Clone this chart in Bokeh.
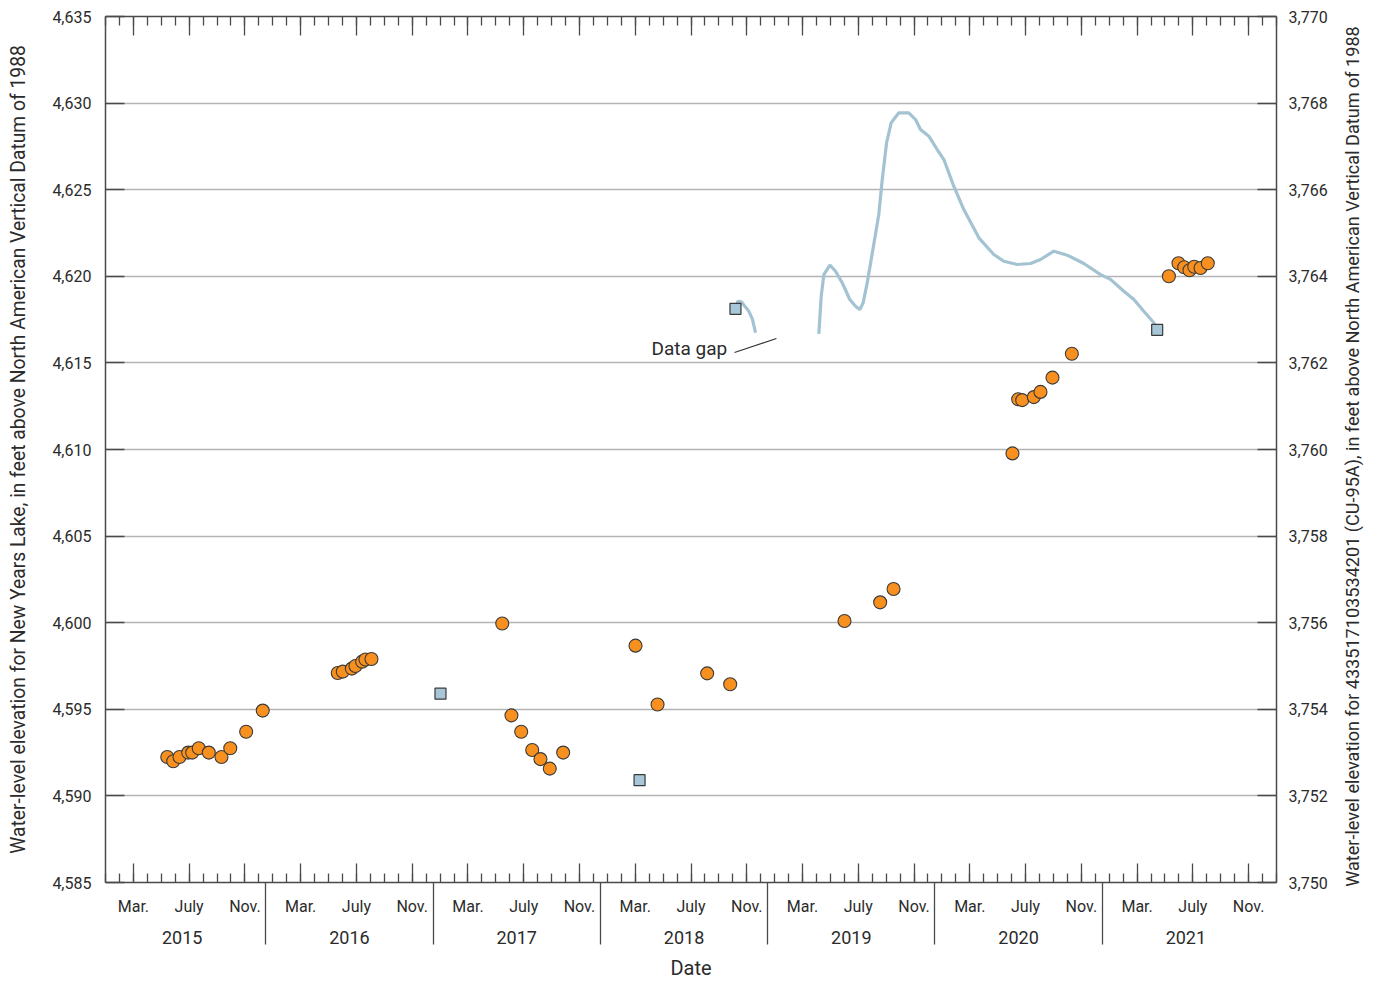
import math
from bokeh.plotting import figure
from bokeh.layouts import row
from bokeh.core.properties import value
from bokeh.models import (Range1d, LinearAxis, FixedTicker, NumeralTickFormatter,
                          Label, Grid)
from bokeh.embed import file_html
from bokeh.resources import INLINE

# ---------------- data ----------------
# time axis: months since 1 Jan 2015 (continuous)
years = ["2015", "2016", "2017", "2018", "2019", "2020", "2021"]
month_labels = ["Mar.", "July", "Nov."]
month_label_idx = [2, 6, 10]

# Well 433517103534201 (CU-95A), right axis
well_t = [4.93, 5.36, 5.81, 6.43, 6.72, 7.19, 7.91, 8.82, 9.45, 10.59, 11.78,
          17.16, 17.52, 18.17, 18.43, 18.91, 19.15, 19.58,
          28.96, 29.62, 30.32, 31.11, 31.70, 32.37, 33.33,
          38.52, 40.10, 43.66, 45.31,
          53.51, 56.07, 57.03,
          65.56, 65.97, 66.26, 67.09, 67.57, 68.43, 69.82,
          76.78, 77.47, 77.88, 78.26, 78.60, 79.05, 79.57]
well_elev = [3752.90, 3752.80, 3752.90, 3753.00, 3753.00, 3753.10, 3753.00, 3752.90, 3753.10, 3753.48, 3753.97,
             3754.84, 3754.87, 3754.94, 3755.00, 3755.10, 3755.15, 3755.16,
             3755.98, 3753.86, 3753.48, 3753.06, 3752.85, 3752.63, 3753.00,
             3755.47, 3754.11, 3754.83, 3754.58,
             3756.04, 3756.47, 3756.78,
             3759.91, 3761.16, 3761.14, 3761.21, 3761.33, 3761.66, 3762.21,
             3764.00, 3764.30, 3764.21, 3764.14, 3764.22, 3764.19, 3764.30]

# New Years Lake, left axis: continuous record (two pieces around a data gap)
lake_seg1_t = [45.69, 45.86, 46.12, 46.65, 46.91, 47.13]
lake_seg1_elev = [4618.12, 4618.56, 4618.52, 4617.98, 4617.51, 4616.74]
lake_seg2_t = [51.67, 51.84, 52.03, 52.46, 52.87, 53.35, 53.89, 54.30, 54.61, 54.85,
               55.14, 55.57, 55.97, 56.22, 56.53, 56.86, 57.41, 58.12, 58.61, 58.96,
               59.56, 60.16, 60.64, 61.35, 62.07, 63.15, 64.22, 64.94, 65.90, 66.86,
               67.57, 68.53, 69.49, 70.68, 71.88, 72.59, 73.55, 74.27, 74.98, 75.70, 75.94]
lake_seg2_elev = [4616.68, 4618.84, 4620.10, 4620.64, 4620.29, 4619.62, 4618.66, 4618.27, 4618.08, 4618.47,
                  4619.62, 4621.65, 4623.57, 4625.59, 4627.71, 4628.86, 4629.44, 4629.44, 4629.05, 4628.48,
                  4628.09, 4627.32, 4626.74, 4625.20, 4623.85, 4622.22, 4621.26, 4620.87, 4620.68, 4620.74,
                  4620.97, 4621.45, 4621.22, 4620.74, 4620.10, 4619.82, 4619.14, 4618.66, 4617.98, 4617.32, 4616.93]
# New Years Lake, discrete measurements
lake_meas_t = [24.53, 38.81, 45.69, 75.94]
lake_meas_elev = [4595.90, 4590.91, 4618.12, 4616.91]

left_ticks = list(range(4585, 4636, 5))
right_ticks = list(range(3750, 3771, 2))

left_title = "Water-level elevation for New Years Lake, in feet above North American Vertical Datum of 1988"
right_title = "Water-level elevation for 433517103534201 (CU-95A), in feet above North American Vertical Datum of 1988"

# ---------------- style ----------------
FONT = "Roboto"
TXT = "#2b2b2b"
AX = "#4a4a4a"

p = figure(frame_width=1171, frame_height=866,
           x_range=Range1d(0.5, 84.5), y_range=Range1d(4585, 4635),
           x_axis_type=None, y_axis_type=None,
           output_backend="svg", toolbar_location=None,
           min_border_left=105, min_border_right=62, min_border_top=16, min_border_bottom=0)
p.outline_line_color = None
p.background_fill_color = "white"
p.extra_y_ranges = {"right": Range1d(3750, 3770)}

month_minor = [k + 0.5 for k in range(0, 85)]
month_major = [12 * y + m + 0.5 for y in range(len(years)) for m in month_label_idx]
overrides = {}
for y in range(len(years)):
    for m, lab in zip(month_label_idx, month_labels):
        overrides[12 * y + m + 0.5] = lab


def style_axis(ax):
    ax.axis_line_color = AX
    ax.axis_line_width = 1.5
    ax.major_tick_line_color = AX
    ax.minor_tick_line_color = AX
    ax.major_tick_line_width = 1.3
    ax.minor_tick_line_width = 1.3
    ax.major_label_text_font = FONT
    ax.major_label_text_font_size = "16px"
    ax.major_label_text_color = TXT
    ax.axis_label_text_font = FONT
    ax.axis_label_text_font_style = "normal"
    ax.axis_label_text_color = TXT


# bottom month axis
xb = LinearAxis(ticker=FixedTicker(ticks=month_major, minor_ticks=month_minor),
                major_label_overrides=overrides)
style_axis(xb)
xb.major_tick_in = 19
xb.major_tick_out = 0
xb.minor_tick_in = 9
xb.minor_tick_out = 0
xb.major_label_standoff = 14
p.add_layout(xb, "below")

# year label axis; its minor ticks are the year separators
year_centers = [12 * y + 6 for y in range(len(years))]
year_bounds = [12 * y for y in range(1, len(years))]
xy = LinearAxis(ticker=FixedTicker(ticks=year_centers, minor_ticks=year_bounds),
                major_label_overrides={c: s for c, s in zip(year_centers, years)},
                axis_label="Date")
style_axis(xy)
xy.axis_line_color = None
xy.major_tick_line_color = None
xy.major_tick_in = 0
xy.major_tick_out = 0
xy.minor_tick_in = 36
xy.minor_tick_out = 26
xy.major_label_standoff = -14
xy.major_label_text_font_size = "18px"
xy.axis_label_text_font_size = "20px"
xy.axis_label_standoff = 9
p.add_layout(xy, "below")

# top axis
xt = LinearAxis(ticker=FixedTicker(ticks=month_major, minor_ticks=month_minor),
                major_label_overrides={t: "" for t in month_major})
style_axis(xt)
xt.major_tick_in = 19
xt.major_tick_out = 0
xt.minor_tick_in = 9
xt.minor_tick_out = 0
xt.major_label_text_font_size = "1px"
xt.major_label_standoff = 0
p.add_layout(xt, "above")

# left axis
yl = LinearAxis(ticker=FixedTicker(ticks=left_ticks, minor_ticks=[]),
                formatter=NumeralTickFormatter(format="0,0"),
                axis_label=left_title)
style_axis(yl)
yl.major_tick_in = 19
yl.major_tick_out = 0
yl.major_label_standoff = 14
yl.axis_label_text_font_size = "19.3px"
yl.axis_label_standoff = 19
p.add_layout(yl, "left")

# right axis (its title is drawn in a narrow strip so it reads bottom-to-top)
yr = LinearAxis(y_range_name="right", ticker=FixedTicker(ticks=right_ticks, minor_ticks=[]),
                formatter=NumeralTickFormatter(format="0,0"))
style_axis(yr)
yr.major_tick_in = 19
yr.major_tick_out = 0
yr.major_label_standoff = 12
p.add_layout(yr, "right")

# horizontal grid
g = Grid(dimension=1, ticker=FixedTicker(ticks=left_ticks[1:-1]))
g.grid_line_color = "#b4b4b4"
g.grid_line_width = 1.6
p.add_layout(g)

# lake record
p.line(lake_seg1_t, lake_seg1_elev, line_color="#a3c2d2", line_width=3.2)
p.line(lake_seg2_t, lake_seg2_elev, line_color="#a3c2d2", line_width=3.2)
p.scatter(lake_meas_t, lake_meas_elev, marker="square", size=11,
          fill_color="#a7c6d7", line_color="#3a3a3a", line_width=1.2)

# well
p.scatter(well_t, well_elev, y_range_name="right", marker="circle", size=13,
          fill_color="#f7901e", line_color="#3a3a3a", line_width=1.1)

# data-gap annotation
p.add_layout(Label(x=39.67, y=4615.85, text="Data gap", text_font=FONT,
                   text_font_size="19px", text_color=TXT, text_baseline="middle"))
p.line([45.62, 48.63], [4615.60, 4616.41], line_color="#333333", line_width=1.1)

# right-hand title strip
STRIP_H = 940
p2 = figure(frame_width=28, frame_height=STRIP_H,
            x_range=Range1d(0, 1), y_range=Range1d(0, STRIP_H),
            x_axis_type=None, y_axis_type=None,
            output_backend="svg", toolbar_location=None,
            min_border_left=0, min_border_right=0, min_border_top=0, min_border_bottom=0)
p2.outline_line_color = None
p2.grid.visible = False
p2.text(x=[0.5], y=[STRIP_H - 440], text=[right_title], angle=math.pi / 2,
        text_align="center", text_baseline="middle",
        text_font=value(FONT), text_font_size="18.1px", text_color=TXT)

layout = row(p, p2, spacing=0)
open("out.html", "w").write(file_html(layout, INLINE))
